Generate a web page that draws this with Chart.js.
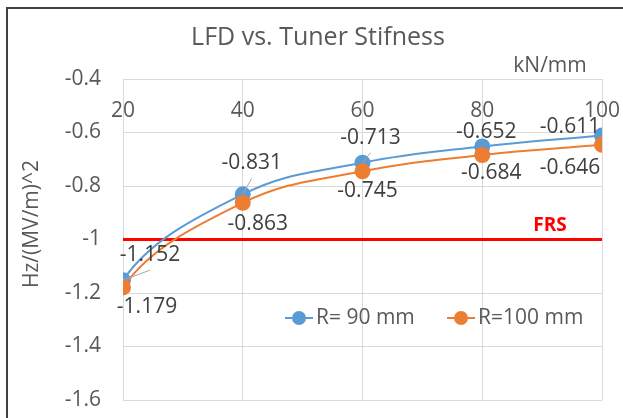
<!DOCTYPE html>
<html>
<head>
<meta charset="utf-8">
<script src="https://cdn.jsdelivr.net/npm/chart.js@4.4.0/dist/chart.umd.min.js"></script>
<style>
  html, body { margin: 0; padding: 0; background: #fff; }
</style>
</head>
<body>
<canvas id="lfdChart" width="623" height="418"></canvas>
<script>
// data
const stiffness = [20, 40, 60, 80, 100];
const lfdR90 = [-1.152, -0.831, -0.713, -0.652, -0.611];
const lfdR100 = [-1.179, -0.863, -0.745, -0.684, -0.646];
const frsLevel = -1;
const seriesNames = ['R= 90 mm', 'R=100 mm'];

const FONT = '"Open Sans", "DejaVu Sans", sans-serif';
const BLUE = '#5B9BD5';
const ORANGE = '#ED7D31';
const GRID = '#d9d9d9';
const TXT = '#595959';

// where each value label sits relative to its point (dx, dy)
const labelOffsets = [
  [[27, -25], [9, -31], [8, -25], [4, -14], [-32, -8]],
  [[24, 20], [15, 21], [5, 20], [9, 18], [-32, 23]]
];
const leaders = [[0, 0], [0, 1], [0, 2]];

function pts(ys) {
  return stiffness.map((x, i) => ({ x: x, y: ys[i] }));
}

// Excel's smoothing starts the first segment steeper than Chart.js does,
// so bend the first control point up a bit
const excelStart = {
  id: 'excelStart',
  beforeDatasetDraw(chart, args) {
    if (args.index > 1) return;
    const meta = args.meta;
    meta.dataset.updateControlPoints(chart.chartArea, 'x');
    const p0 = meta.data[0];
    const p1 = meta.data[1];
    p0.cp2x = p0.x + (p1.x - p0.x) * 0.22;
    p0.cp2y = p0.y + (p1.y - p0.y) * 0.45;
  }
};

const decorations = {
  id: 'decorations',
  afterDraw(chart) {
    const ctx = chart.ctx;
    const xs = chart.scales.x;
    const ys = chart.scales.y;
    const area = chart.chartArea;
    ctx.save();

    // outer frame (left and top edges only show in the crop)
    ctx.strokeStyle = '#404040';
    ctx.lineWidth = 2;
    ctx.beginPath();
    ctx.moveTo(7, 418);
    ctx.lineTo(7, 8);
    ctx.lineTo(623, 8);
    ctx.stroke();

    // title
    ctx.fillStyle = TXT;
    ctx.textAlign = 'center';
    ctx.textBaseline = 'middle';
    ctx.font = '25px ' + FONT;
    ctx.fillText('LFD vs. Tuner Stifness', 318, 38);

    // x unit
    ctx.font = '21px ' + FONT;
    ctx.fillText('kN/mm', 550, 66);

    // x tick labels sit just under the top axis
    stiffness.forEach(v => {
      ctx.fillText(String(v), xs.getPixelForValue(v), area.top + 32);
    });

    // y axis title
    ctx.save();
    ctx.translate(32, 224);
    ctx.rotate(-Math.PI / 2);
    ctx.fillText('Hz/(MV/m)^2', 0, 0);
    ctx.restore();

    // FRS label
    ctx.fillStyle = '#FF0000';
    ctx.font = 'bold 19px ' + FONT;
    ctx.fillText('FRS', 550, ys.getPixelForValue(frsLevel) - 14);

    // leader lines
    ctx.strokeStyle = '#a6a6a6';
    ctx.lineWidth = 1;
    leaders.forEach(([d, i]) => {
      const p = chart.getDatasetMeta(d).data[i];
      const off = labelOffsets[d][i];
      ctx.beginPath();
      ctx.moveTo(p.x, p.y);
      ctx.lineTo(p.x + off[0], p.y + off[1] + 15);
      ctx.stroke();
    });

    // value labels
    ctx.fillStyle = '#404040';
    ctx.font = '21px ' + FONT;
    [lfdR90, lfdR100].forEach((vals, d) => {
      const meta = chart.getDatasetMeta(d);
      vals.forEach((v, i) => {
        const p = meta.data[i];
        const off = labelOffsets[d][i];
        ctx.fillText(v.toFixed(3), p.x + off[0], p.y + off[1]);
      });
    });

    // legend
    const legendY = 318;
    const items = [
      { name: seriesNames[0], color: BLUE, x0: 285 },
      { name: seriesNames[1], color: ORANGE, x0: 447 }
    ];
    ctx.font = '21px ' + FONT;
    ctx.textAlign = 'left';
    items.forEach(it => {
      ctx.strokeStyle = it.color;
      ctx.lineWidth = 2;
      ctx.beginPath();
      ctx.moveTo(it.x0, legendY);
      ctx.lineTo(it.x0 + 28, legendY);
      ctx.stroke();
      ctx.fillStyle = it.color;
      ctx.beginPath();
      ctx.arc(it.x0 + 14, legendY, 7, 0, Math.PI * 2);
      ctx.fill();
      ctx.fillStyle = TXT;
      ctx.fillText(it.name, it.x0 + 31, legendY);
    });

    ctx.restore();
  }
};

new Chart(document.getElementById('lfdChart'), {
  type: 'line',
  data: {
    datasets: [
      {
        label: seriesNames[0],
        data: pts(lfdR90),
        borderColor: BLUE,
        backgroundColor: BLUE,
        borderWidth: 2,
        pointRadius: 8,
        pointBorderWidth: 0,
        tension: 0.4,
        order: 1
      },
      {
        label: seriesNames[1],
        data: pts(lfdR100),
        borderColor: ORANGE,
        backgroundColor: ORANGE,
        borderWidth: 2,
        pointRadius: 8,
        pointBorderWidth: 0,
        tension: 0.4,
        order: 0
      },
      {
        label: 'FRS',
        data: [{ x: stiffness[0], y: frsLevel }, { x: stiffness[stiffness.length - 1], y: frsLevel }],
        borderColor: '#FF0000',
        borderWidth: 3,
        pointRadius: 0,
        order: 2
      }
    ]
  },
  options: {
    responsive: false,
    animation: false,
    layout: { padding: { left: 0, top: 79, right: 21, bottom: 18 } },
    plugins: {
      legend: { display: false },
      tooltip: { enabled: false }
    },
    scales: {
      x: {
        type: 'linear',
        position: 'top',
        min: 20,
        max: 100,
        ticks: { display: false, stepSize: 20 },
        grid: { color: GRID, drawTicks: false },
        border: { color: GRID },
        afterFit: s => { s.height = 0; s.paddingLeft = 0; s.paddingRight = 0; }
      },
      y: {
        min: -1.6,
        max: -0.4,
        ticks: {
          stepSize: 0.2,
          padding: 22,
          color: TXT,
          font: { family: FONT, size: 21 },
          callback: v => String(parseFloat(v.toFixed(1)))
        },
        grid: { color: GRID, drawTicks: false },
        border: { color: GRID },
        afterFit: s => { s.width = 123; s.paddingTop = 0; s.paddingBottom = 0; }
      }
    }
  },
  plugins: [excelStart, decorations]
});
</script>
</body>
</html>
